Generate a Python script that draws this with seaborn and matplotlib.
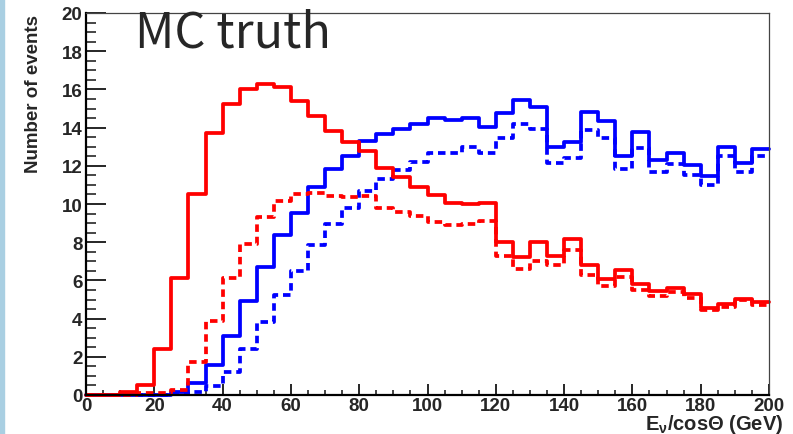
import numpy as np
import pandas as pd
import seaborn as sns
import matplotlib
matplotlib.use("Agg")
import matplotlib.pyplot as plt
from matplotlib.patches import Rectangle
from matplotlib.ticker import MultipleLocator

# Bin edges (GeV) and per-bin event counts
bin_edges = np.arange(0, 205, 5)

red_solid = [0, 0, 0.15, 0.5, 2.4, 6.1, 10.5, 13.7, 15.25, 16.0,
             16.3, 16.15, 15.4, 14.6, 13.8, 13.25, 12.8, 11.9, 11.4, 10.9,
             10.45, 10.05, 10.0, 10.05, 8.0, 7.25, 8.0, 7.3, 8.15, 6.8,
             6.05, 6.55, 5.8, 5.45, 5.6, 5.3, 4.55, 4.75, 5.05, 4.85]

red_dashed = [0, 0, 0, 0.12, 0.1, 0.25, 1.75, 3.9, 6.1, 7.9,
              9.3, 10.15, 10.5, 10.55, 10.4, 10.35, 10.4, 9.8, 9.6, 9.35,
              9.05, 8.9, 8.95, 9.1, 7.3, 6.6, 7.0, 6.8, 7.6, 6.3,
              5.7, 6.2, 5.5, 5.2, 5.4, 5.1, 4.45, 4.6, 4.95, 4.7]

blue_solid = [0, 0, 0, 0, 0, 0.15, 0.62, 1.55, 3.1, 4.9,
              6.7, 8.4, 9.55, 10.9, 11.85, 12.5, 13.3, 13.65, 13.95, 14.2,
              14.5, 14.4, 14.5, 14.05, 14.75, 15.45, 15.1, 13.0, 13.25, 14.8,
              14.35, 12.5, 13.75, 12.3, 12.65, 12.05, 11.45, 13.0, 12.15, 12.9]

blue_dashed = [0, 0, 0, 0, 0, 0.03, 0.14, 0.45, 1.2, 2.4,
               3.8, 5.25, 6.5, 7.85, 8.95, 9.8, 10.7, 11.3, 11.8, 12.2,
               12.65, 12.65, 13.0, 12.65, 13.45, 14.2, 13.95, 12.15, 12.4, 13.9,
               13.45, 11.85, 12.95, 11.7, 12.1, 11.5, 11.0, 12.5, 11.65, 12.5]

sns.set_style("ticks")
plt.rcParams["font.family"] = ["Liberation Sans", "DejaVu Sans"]
plt.rcParams["font.weight"] = "bold"
plt.rcParams["mathtext.fontset"] = "custom"
plt.rcParams["mathtext.rm"] = "Liberation Sans:bold"
plt.rcParams["mathtext.it"] = "Liberation Sans:bold"
plt.rcParams["mathtext.bf"] = "Liberation Sans:bold"
plt.rcParams["mathtext.default"] = "bf"

df = pd.DataFrame({
    "energy": bin_edges[:-1] + 2.5,
    "red_solid": red_solid,
    "red_dashed": red_dashed,
    "blue_solid": blue_solid,
    "blue_dashed": blue_dashed,
})

fig = plt.figure(figsize=(7.93, 4.35), dpi=100)
fig.patch.set_facecolor("white")
fig.patches.append(Rectangle((0, 0), 4 / 793, 1, transform=fig.transFigure,
                             color="#a9cfe2", zorder=0))
ax = fig.add_axes([86 / 793, 1 - 396 / 435, 683 / 793, 382 / 435])

dash = (0, (2.0, 1.3))
series = [
    ("blue_dashed", "#0000ff", dash),
    ("blue_solid", "#0000ff", "-"),
    ("red_dashed", "#ff0000", dash),
    ("red_solid", "#ff0000", "-"),
]
for col, color, ls in series:
    sns.histplot(data=df, x="energy", weights=col,
                 binwidth=5, binrange=(bin_edges[0], bin_edges[-1]),
                 element="step", fill=False, color=color, linewidth=2.7,
                 linestyle=ls, ax=ax, clip_on=False)

ax.set_xlim(0, 200)
ax.set_ylim(0, 20)
ax.xaxis.set_major_locator(MultipleLocator(20))
ax.xaxis.set_minor_locator(MultipleLocator(5))
ax.yaxis.set_major_locator(MultipleLocator(2))
ax.yaxis.set_minor_locator(MultipleLocator(0.5))

ax.tick_params(axis="y", which="major", direction="in", length=14.5, width=1.4,
               labelsize=13.5, pad=2.5, right=False)
ax.tick_params(axis="y", which="minor", direction="in", length=7.2, width=1.2,
               right=False)
ax.tick_params(axis="x", which="major", direction="in", length=8, width=1.4,
               labelsize=13.5, pad=1.5, top=False)
ax.tick_params(axis="x", which="minor", direction="in", length=3.6, width=1.2,
               top=False)

for side in ("left", "bottom"):
    ax.spines[side].set_linewidth(1.6)
    ax.spines[side].set_color("black")
for side in ("top", "right"):
    ax.spines[side].set_visible(True)
    ax.spines[side].set_linewidth(0.9)
    ax.spines[side].set_color("#444444")

ax.set_ylabel("")
ax.set_xlabel(r"E$_{\nu}$/cos$\Theta$ (GeV)", fontsize=14.5, fontweight="bold",
              ha="right", va="baseline")
ax.xaxis.set_label_coords((783 - 86) / 683, (396 - 430) / 382)
fig.text(34 / 793, 1 - 15 / 435, "Number of events", rotation=90,
         ha="center", va="top", fontsize=13.5, fontweight="bold")

fig.text(135 / 793, 1 - 48 / 435, "MC truth", fontsize=35,
         fontweight="normal", family=["Noto Sans CJK JP", "DejaVu Sans"],
         va="baseline", ha="left")

fig.savefig("out.png", dpi=100)
